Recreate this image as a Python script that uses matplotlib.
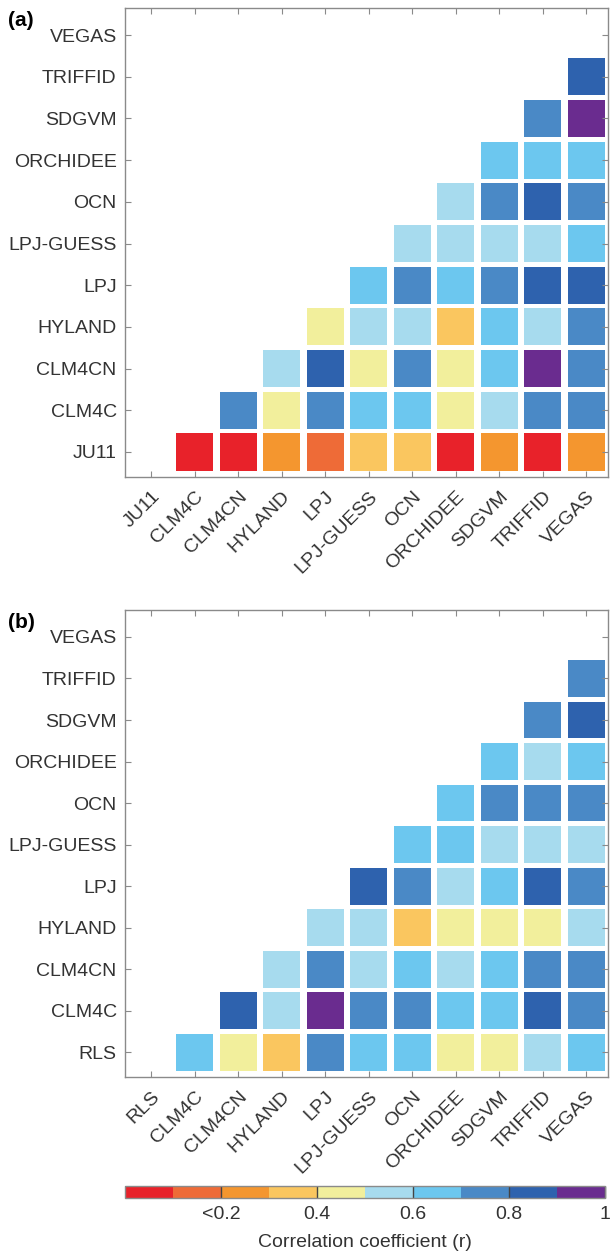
import numpy as np
import matplotlib
matplotlib.use("Agg")
import matplotlib.pyplot as plt
from matplotlib.colors import ListedColormap, BoundaryNorm
from matplotlib.cm import ScalarMappable

plt.rcParams["font.family"] = ["Liberation Sans", "DejaVu Sans"]

# Model names on both axes
models_a = ["JU11", "CLM4C", "CLM4CN", "HYLAND", "LPJ", "LPJ-GUESS",
            "OCN", "ORCHIDEE", "SDGVM", "TRIFFID", "VEGAS"]
models_b = ["RLS", "CLM4C", "CLM4CN", "HYLAND", "LPJ", "LPJ-GUESS",
            "OCN", "ORCHIDEE", "SDGVM", "TRIFFID", "VEGAS"]

# Correlation coefficients, upper triangle: row i lists r with columns i+1 .. 10
corr_a = [
    [0.05, 0.05, 0.25, 0.15, 0.35, 0.35, 0.05, 0.25, 0.05, 0.25],
    [0.75, 0.45, 0.75, 0.65, 0.65, 0.45, 0.55, 0.75, 0.75],
    [0.55, 0.85, 0.45, 0.75, 0.45, 0.65, 0.95, 0.75],
    [0.45, 0.55, 0.55, 0.35, 0.65, 0.55, 0.75],
    [0.65, 0.75, 0.65, 0.75, 0.85, 0.85],
    [0.55, 0.55, 0.55, 0.55, 0.65],
    [0.55, 0.75, 0.85, 0.75],
    [0.65, 0.65, 0.65],
    [0.75, 0.95],
    [0.85],
]
corr_b = [
    [0.65, 0.45, 0.35, 0.75, 0.65, 0.65, 0.45, 0.45, 0.55, 0.65],
    [0.85, 0.55, 0.95, 0.75, 0.75, 0.65, 0.65, 0.85, 0.75],
    [0.55, 0.75, 0.55, 0.65, 0.55, 0.65, 0.75, 0.75],
    [0.55, 0.55, 0.35, 0.45, 0.45, 0.45, 0.55],
    [0.85, 0.75, 0.55, 0.65, 0.85, 0.75],
    [0.65, 0.65, 0.55, 0.55, 0.55],
    [0.65, 0.75, 0.75, 0.75],
    [0.65, 0.55, 0.65],
    [0.75, 0.85],
    [0.75],
]

bin_colors = ["#E8222A", "#EE6B37", "#F4962F", "#FAC65F", "#F2EF9C",
              "#A7DBEE", "#6CC7EF", "#4A89C6", "#2E62AE", "#6A2C8F"]
bounds = np.linspace(0, 1, 11)
cmap = ListedColormap(bin_colors)
norm = BoundaryNorm(bounds, cmap.N)

cbar_ticks = [0.2, 0.4, 0.6, 0.8, 1.0]
cbar_ticklabels = ["<0.2", "0.4", "0.6", "0.8", "1"]

text_col = "#333333"
spine_col = "#8a8a8a"

fig = plt.figure(figsize=(6.11, 12.55), dpi=100)
W, H = 611, 1255


def px_axes(left, top, right, bottom):
    return fig.add_axes([left / W, 1 - bottom / H, (right - left) / W, (bottom - top) / H])


def draw_panel(ax, names, corr, tag, tag_y):
    n = len(names)
    for i, row in enumerate(corr):
        cols = np.arange(i + 1, n)
        ax.bar(cols, 0.89, bottom=i - 0.445, width=0.85,
               color=[cmap(norm(v)) for v in row], linewidth=0)
    ax.set_xlim(-0.6, n - 0.5)
    ax.set_ylim(-0.6, n - 0.35)
    ax.set_xticks(np.arange(n))
    ax.set_yticks(np.arange(n))
    ax.set_xticklabels(names, rotation=45, ha="right", va="top",
                       rotation_mode="anchor", fontsize=14, color=text_col)
    ax.set_yticklabels(names, fontsize=14, color=text_col)
    ax.tick_params(direction="in", length=4, width=0.8, color=spine_col,
                   top=True, right=True, pad=6)
    ax.tick_params(axis="x", pad=8)
    for s in ax.spines.values():
        s.set_color(spine_col)
        s.set_linewidth(1.0)
    fig.text(8 / W, 1 - tag_y / H, tag, fontsize=15, fontweight="bold",
             color="black", va="center", ha="left")


ax_a = px_axes(125, 8, 608, 477)
draw_panel(ax_a, models_a, corr_a, "(a)", 20)

ax_b = px_axes(125, 610, 608, 1077)
draw_panel(ax_b, models_b, corr_b, "(b)", 622)

cax = px_axes(125, 1186, 605, 1198)
sm = ScalarMappable(norm=norm, cmap=cmap)
cb = fig.colorbar(sm, cax=cax, orientation="horizontal", ticks=cbar_ticks,
                  boundaries=bounds, spacing="proportional")
cb.minorticks_off()
cb.set_ticklabels(cbar_ticklabels)
cb.outline.set_edgecolor(spine_col)
cb.outline.set_linewidth(1.0)
cax.tick_params(direction="in", length=8.6, width=1.0, color="#444444",
                labelsize=14, labelcolor=text_col, pad=6)
cb.set_label("Correlation coefficient (r)", fontsize=14, color=text_col, labelpad=8)

fig.savefig("out.png", dpi=100)
